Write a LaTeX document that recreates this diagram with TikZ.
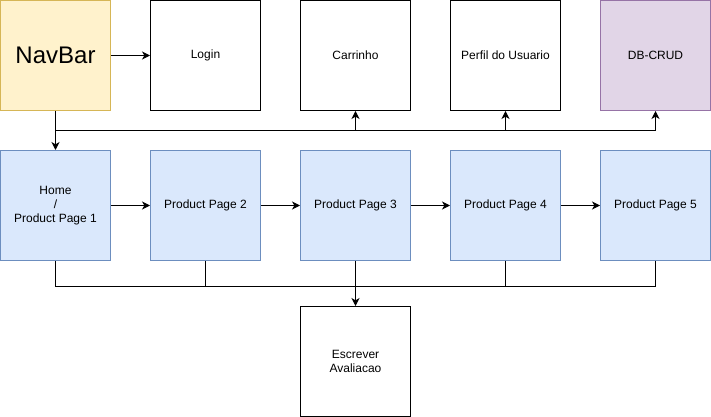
\documentclass[tikz,border=0pt]{standalone}
\usepackage{fontspec}
\setmainfont{Liberation Sans}
\usetikzlibrary{arrows.meta}
\definecolor{yfill}{HTML}{FFF2CC}
\definecolor{ydraw}{HTML}{D6B656}
\definecolor{bfill}{HTML}{DAE8FC}
\definecolor{bdraw}{HTML}{6C8EBF}
\definecolor{pfill}{HTML}{E1D5E7}
\definecolor{pdraw}{HTML}{9673A6}
\tikzset{
  box/.style={draw=black, line width=0.75pt, minimum width=82.5pt, minimum height=82.5pt, inner sep=0pt, align=center, font=\fontsize{9}{10.5}\selectfont},
  ybox/.style={box, fill=yfill, draw=ydraw},
  bbox/.style={box, fill=bfill, draw=bdraw},
  pbox/.style={box, fill=pfill, draw=pdraw},
  conn/.style={line width=0.75pt, -{Stealth[length=6pt,width=6pt,inset=1.8pt]}},
  plain/.style={line width=0.75pt}
}
\begin{document}
\begin{tikzpicture}[x=0.75pt,y=-0.75pt]
\useasboundingbox (0,0) rectangle (711,417);
\node[ybox, font=\fontsize{18}{21}\selectfont] (nav) at (55.5,55.5) {NavBar};
\node[box] (login) at (205.5,55.5) {Login};
\node[box] (cart) at (355.5,55.5) {Carrinho};
\node[box] (perfil) at (505.5,55.5) {Perfil do Usuario};
\node[pbox] (db) at (655.5,55.5) {DB-CRUD};
\node[bbox] (p1) at (55.5,205.5) {Home\\/\\Product Page 1};
\node[bbox] (p2) at (205.5,205.5) {Product Page 2};
\node[bbox] (p3) at (355.5,205.5) {Product Page 3};
\node[bbox] (p4) at (505.5,205.5) {Product Page 4};
\node[bbox] (p5) at (655.5,205.5) {Product Page 5};
\node[box] (esc) at (355.5,361.5) {Escrever\\Avaliacao};
\coordinate (bt) at (55.5,130.5);
\coordinate (bb) at (355.5,286.5);
% top
\draw[conn] (nav) -- (login);
\draw[conn] (nav) -- (p1);
\draw[conn] (nav.south) |- (bt) -| (cart.south);
\draw[conn] (bt) -| (perfil.south);
\draw[conn] (bt) -| (db.south);
% row
\draw[conn] (p1) -- (p2);
\draw[conn] (p2) -- (p3);
\draw[conn] (p3) -- (p4);
\draw[conn] (p4) -- (p5);
% bottom
\draw[conn] (p3.south) -- (esc.north);
\draw[plain] (p1.south) |- (bb);
\draw[plain] (p2.south) |- (bb);
\draw[plain] (p4.south) |- (bb);
\draw[plain] (p5.south) |- (bb);
\end{tikzpicture}
\end{document}
